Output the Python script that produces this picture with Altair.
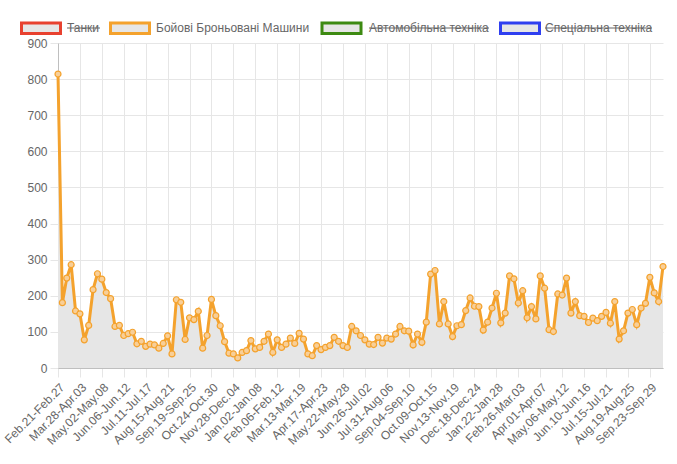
import datetime as dt
import altair as alt
import pandas as pd

# ---------------- data ----------------
start = dt.date(2022, 2, 21)
n_weeks = 139
weeks = []
for i in range(n_weeks):
    a = start + dt.timedelta(weeks=i)
    b = a + dt.timedelta(days=6)
    weeks.append(f"{a.strftime('%b')}.{a.day:02d}-{b.strftime('%b')}.{b.day:02d}")

bbm_values = [
    814, 181, 249, 286, 158, 150, 78, 118, 217, 261,
    246, 209, 192, 115, 118, 90, 95, 99, 67, 74,
    60, 66, 64, 55, 68, 89, 39, 189, 182, 79,
    139, 134, 157, 55, 90, 190, 145, 117, 73, 41,
    39, 28, 43, 48, 76, 53, 57, 74, 94, 43,
    78, 57, 66, 83, 68, 96, 80, 39, 34, 62,
    51, 57, 62, 85, 74, 62, 57, 115, 103, 90,
    78, 66, 65, 85, 69, 83, 80, 94, 115, 103,
    102, 64, 94, 71, 127, 260, 270, 122, 184, 122,
    87, 117, 120, 159, 194, 171, 170, 105, 127, 166,
    207, 125, 152, 255, 247, 180, 214, 139, 170, 136,
    255, 221, 106, 101, 205, 202, 249, 152, 184, 145,
    143, 126, 138, 131, 143, 154, 124, 184, 80, 103,
    152, 162, 120, 166, 179, 251, 208, 184, 281,
]

tick_labels = weeks[::5]
y_ticks = list(range(0, 1000, 100))

legend_labels = ["Танки", "Бойові Броньовані Машини", "Автомобільна техніка", "Спеціальна техніка"]
legend_colors = ["#e8412f", "#f4a22d", "#3d8a12", "#2f3ff0"]
legend_hidden = [True, False, True, True]

df = pd.DataFrame({"week": weeks, "value": bbm_values})

# ---------------- layout ----------------
PAD_L, PAD_T, PAD_R, PAD_B = 58, 43, 14, 96
W, H = 605, 325
FONT = "Liberation Sans"
TXT = "#666666"
GRID = "#e6e6e6"
ORANGE = "#f4a22d"

x = alt.X(
    "week:N", sort=None,
    scale=alt.Scale(type="point", padding=0),
    axis=alt.Axis(values=tick_labels, labelAngle=-45, labelAlign="right",
                  labelBaseline="middle", title=None, grid=True,
                  gridColor=GRID, tickColor=GRID, tickSize=9, labelPadding=8,
                  labelOffset=4,
                  domainColor="#bfbfbf", labelColor=TXT, labelFontSize=12,
                  labelFont=FONT, labelOverlap=False),
)
y = alt.Y(
    "value:Q",
    scale=alt.Scale(domain=[0, 900], nice=False),
    axis=alt.Axis(values=y_ticks, title=None, grid=True, gridColor=GRID,
                  tickColor=GRID, tickSize=8, labelPadding=3,
                  domainColor="#bfbfbf", labelColor=TXT, labelFontSize=12,
                  labelFont=FONT),
)

area = alt.Chart(df).mark_area(color="#e6e6e6").encode(x=x, y=y)
line = alt.Chart(df).mark_line(color=ORANGE, strokeWidth=3).encode(x=x, y=y)
pts = alt.Chart(df).mark_point(shape="circle", size=36, fill="#f8cf98",
                               fillOpacity=1, stroke=ORANGE, strokeWidth=1.2,
                               opacity=1).encode(x=x, y=y)

# ---------------- legend (drawn manually, Chart.js style) ----------------
dummy = pd.DataFrame({"k": [0]})
box_x = [21.5, 110.5, 322, 500.5]
text_x = [67, 156, 369, 545]
text_w = [33, 156, 120, 107]
BOX_T, BOX_B, MID = 23, 33.5, 28
legend_layers = []
for lab, col, hid, bx, tx, tw in zip(legend_labels, legend_colors, legend_hidden, box_x, text_x, text_w):
    legend_layers.append(
        alt.Chart(dummy).mark_rect(fill="#e6e6e6", stroke=col, strokeWidth=3).encode(
            x=alt.value(bx - PAD_L), x2=alt.value(bx + 39 - PAD_L),
            y=alt.value(BOX_T - PAD_T), y2=alt.value(BOX_B - PAD_T))
    )
    legend_layers.append(
        alt.Chart(dummy).mark_text(text=lab, align="left", baseline="middle",
                                   fontSize=12, font=FONT, color=TXT).encode(
            x=alt.value(tx - PAD_L), y=alt.value(MID - PAD_T))
    )
    if hid:
        legend_layers.append(
            alt.Chart(dummy).mark_rule(color=TXT, strokeWidth=1).encode(
                x=alt.value(tx - PAD_L), x2=alt.value(tx + tw - PAD_L),
                y=alt.value(MID - PAD_T))
        )

chart = alt.layer(area, line, pts, *legend_layers).properties(
    width=W, height=H,
    padding={"left": PAD_L, "top": PAD_T, "right": PAD_R, "bottom": PAD_B},
    autosize=alt.AutoSizeParams(type="none"),
    background="white",
).configure_view(stroke=None)

chart.save("out.html", embed_options={"renderer": "svg", "actions": False})
